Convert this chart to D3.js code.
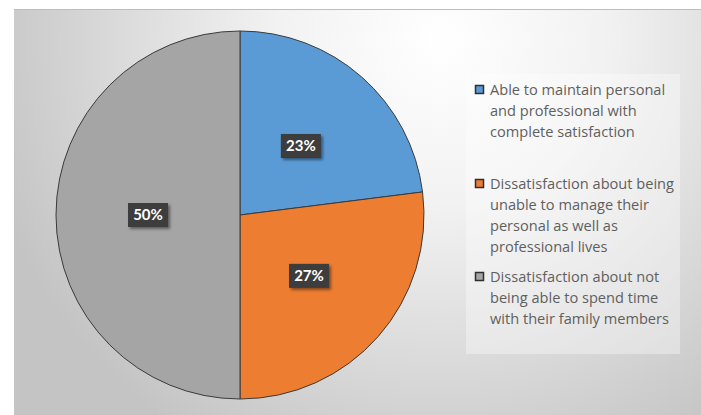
<!DOCTYPE html>
<html>
<head>
<meta charset="utf-8">
<script src="https://cdn.jsdelivr.net/npm/d3@7"></script>
<style>
  html, body { margin: 0; padding: 0; background: #ffffff; }
  svg { display: block; }
</style>
</head>
<body>
<svg id="chart" width="701" height="415"></svg>
<script>
// Work-life balance survey: share of respondents per answer
const categories = [
  "Able to maintain personal and professional with complete satisfaction",
  "Dissatisfaction about being unable to manage their personal as well as professional lives",
  "Dissatisfaction about not being able to spend time with their family members"
];
const legendLines = [
  ["Able to maintain personal", "and professional with", "complete satisfaction"],
  ["Dissatisfaction about being", "unable to manage their", "personal as well as", "professional lives"],
  ["Dissatisfaction about not", "being able to spend time", "with their family members"]
];
const values = [23, 27, 50];
const colors = ["#5b9bd5", "#ed7d31", "#a5a5a5"];

const W = 701, H = 415;
const svg = d3.select("#chart");
const defs = svg.append("defs");

// Chart area background: soft radial fill, light near the top, grey at the edges
const bg = defs.append("radialGradient")
  .attr("id", "bgGrad")
  .attr("gradientUnits", "userSpaceOnUse")
  .attr("cx", 440).attr("cy", 40).attr("r", 470);
bg.append("stop").attr("offset", "0%").attr("stop-color", "#ffffff");
bg.append("stop").attr("offset", "35%").attr("stop-color", "#f2f2f2");
bg.append("stop").attr("offset", "100%").attr("stop-color", "#c4c4c4");

const shadow = defs.append("filter").attr("id", "lblShadow")
  .attr("x", "-30%").attr("y", "-30%").attr("width", "170%").attr("height", "170%");
shadow.append("feDropShadow")
  .attr("dx", 2).attr("dy", 2).attr("stdDeviation", 1.5)
  .attr("flood-color", "#000").attr("flood-opacity", 0.45);

const area = { x: 14, y: 9, w: W - 14, h: H - 9 };
svg.append("rect")
  .attr("x", area.x).attr("y", area.y)
  .attr("width", area.w).attr("height", area.h)
  .attr("fill", "url(#bgGrad)");
svg.append("line")
  .attr("x1", area.x).attr("x2", W)
  .attr("y1", area.y + 0.5).attr("y2", area.y + 0.5)
  .attr("stroke", "#bdbdbd").attr("stroke-width", 1);

// Pie
const cx = 240, cy = 215, R = 184;
const pie = d3.pie().sort(null).value(d => d);
const arcs = pie(values);
const arc = d3.arc().innerRadius(0).outerRadius(R);
const labelArc = d3.arc().innerRadius(R * 0.5).outerRadius(R * 0.5);

const g = svg.append("g").attr("transform", `translate(${cx},${cy})`);
g.selectAll("path.slice")
  .data(arcs)
  .join("path")
  .attr("class", "slice")
  .attr("d", arc)
  .attr("fill", (d, i) => colors[i])
  .attr("stroke", "#3a3a3a")
  .attr("stroke-width", 1);

// Value labels on dark boxes
const lbl = g.selectAll("g.lbl")
  .data(arcs)
  .join("g")
  .attr("class", "lbl")
  .attr("transform", d => {
    const [x, y] = labelArc.centroid(d);
    return `translate(${x},${y})`;
  });
lbl.append("rect")
  .attr("x", -20).attr("y", -12)
  .attr("width", 40).attr("height", 24)
  .attr("fill", "#3c3c3c")
  .attr("filter", "url(#lblShadow)");
lbl.append("text")
  .attr("text-anchor", "middle")
  .attr("dy", "0.36em")
  .attr("fill", "#ffffff")
  .attr("font-family", "Lato, 'Open Sans', sans-serif")
  .attr("font-weight", "bold")
  .attr("font-size", 15)
  .text(d => d.data + "%");

// Legend
const legend = svg.append("g");
legend.append("rect")
  .attr("x", 466).attr("y", 74)
  .attr("width", 214).attr("height", 280)
  .attr("fill", "#ffffff").attr("opacity", 0.35);

const entryTop = [90, 184, 277];
const lineH = 21;
const items = legend.selectAll("g.item")
  .data(categories)
  .join("g")
  .attr("class", "item")
  .attr("transform", (d, i) => `translate(475,${entryTop[i]})`);
items.append("rect")
  .attr("x", 0.5).attr("y", -4.5)
  .attr("width", 8).attr("height", 8)
  .attr("fill", (d, i) => colors[i])
  .attr("stroke", "#2f2f2f").attr("stroke-width", 1.5);
items.each(function (d, i) {
  const t = d3.select(this).append("text")
    .attr("x", 15)
    .attr("fill", "#5f5f5f")
    .attr("font-family", "'Open Sans', Lato, sans-serif")
    .attr("font-size", 14.6);
  legendLines[i].forEach((line, k) => {
    t.append("tspan")
      .attr("x", 15)
      .attr("y", k * lineH)
      .attr("dy", "0.35em")
      .text(line);
  });
});
</script>
</body>
</html>
